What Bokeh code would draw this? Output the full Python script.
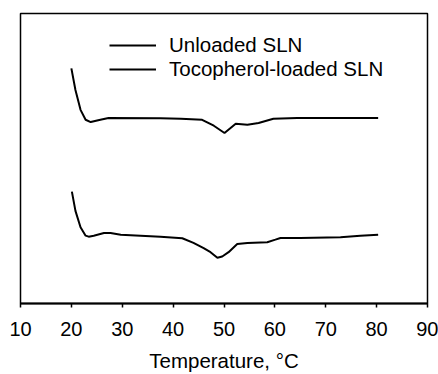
from bokeh.plotting import figure
from bokeh.models import Range1d, FixedTicker, Legend, LegendItem
from bokeh.embed import file_html
from bokeh.resources import INLINE

# Temperature (°C) and heat-flow (arbitrary units)
unloaded_T = [20.0, 20.8, 21.8, 22.8, 23.8, 25.7, 27.3, 37.5, 41.5, 45.7, 48.0,
              50.1, 52.3, 54.6, 56.8, 59.7, 64.4, 80.3]
unloaded_y = [23.67, 21.5, 19.5, 18.5, 18.27, 18.5, 18.67, 18.65, 18.6, 18.5, 17.9,
              17.17, 18.1, 18.0, 18.17, 18.6, 18.67, 18.67]

toco_T = [20.1, 20.8, 21.8, 22.8, 23.4, 24.4, 26.4, 27.7, 29.7, 33.6, 37.5, 41.8,
          44.0, 46.0, 47.35, 48.7, 49.65, 50.9, 52.6, 54.6, 58.5, 60.1, 61.1, 65.0,
          72.9, 76.8, 80.3]
toco_y = [11.27, 9.33, 7.67, 6.83, 6.73, 6.83, 7.1, 7.1, 6.93, 6.83, 6.73, 6.57,
          6.1, 5.57, 5.17, 4.6, 4.73, 5.17, 6.0, 6.1, 6.17, 6.43, 6.6, 6.6,
          6.67, 6.83, 6.93]

x_ticks = [10, 20, 30, 40, 50, 60, 70, 80, 90]
series_names = ["Unloaded SLN", "Tocopherol-loaded SLN"]

FONT = "Liberation Sans"

p = figure(width=438, height=374, output_backend="svg", toolbar_location=None,
           x_range=Range1d(10, 90), y_range=Range1d(0, 29.2),
           y_axis_location=None,
           min_border_left=20, min_border_right=11, min_border_top=13)

p.background_fill_color = "white"
p.border_fill_color = "white"
p.outline_line_color = "black"
p.outline_line_width = 1.5
p.xgrid.visible = False
p.ygrid.visible = False

ax = p.xaxis[0]
ax.ticker = FixedTicker(ticks=x_ticks)
ax.axis_line_width = 2
ax.axis_line_color = "black"
ax.major_tick_line_width = 1.5
ax.major_tick_line_color = "black"
ax.major_tick_out = 4
ax.major_tick_in = 0
ax.minor_tick_out = 0
ax.minor_tick_in = 0
ax.major_label_text_font = FONT
ax.major_label_text_font_size = "20px"
ax.major_label_text_color = "black"
ax.major_label_standoff = 14
ax.axis_label = "Temperature, °C"
ax.axis_label_text_font = FONT
ax.axis_label_text_font_size = "20.5px"
ax.axis_label_text_font_style = "normal"
ax.axis_label_text_color = "black"
ax.axis_label_standoff = 10

r1 = p.line(unloaded_T, unloaded_y, line_color="black", line_width=2)
r2 = p.line(toco_T, toco_y, line_color="black", line_width=2)

legend = Legend(items=[LegendItem(label=series_names[0], renderers=[r1]),
                       LegendItem(label=series_names[1], renderers=[r2])],
                location=(89, 222))
legend.background_fill_alpha = 0
legend.border_line_alpha = 0
legend.padding = 0
legend.margin = 0
legend.spacing = 0
legend.glyph_width = 47
legend.glyph_height = 24
legend.label_height = 24
legend.label_standoff = 13
legend.label_text_font = FONT
legend.label_text_font_size = "20.5px"
legend.label_text_color = "black"
p.add_layout(legend)

open("out.html", "w").write(file_html(p, INLINE))
